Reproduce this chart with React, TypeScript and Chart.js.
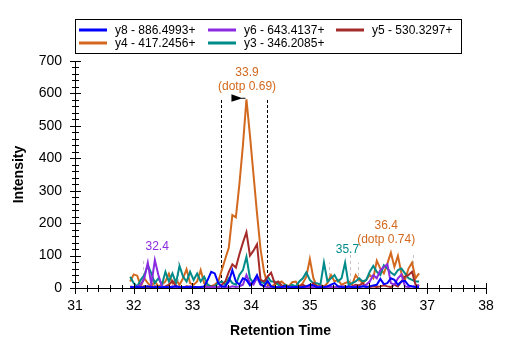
import React, { useEffect, useRef } from "react";
import { Chart, registerables } from "chart.js";

Chart.register(...registerables);

const FONT = "'Liberation Sans', Arial, Helvetica, sans-serif";

// Retention times (min)
const times = [
  31.94, 32.0, 32.06, 32.12, 32.18, 32.24, 32.3, 32.36, 32.42, 32.48,
  32.54, 32.6, 32.66, 32.72, 32.78, 32.84, 32.9, 32.96, 33.02, 33.08,
  33.14, 33.2, 33.26, 33.32, 33.38, 33.44, 33.5, 33.56, 33.62, 33.68,
  33.74, 33.8, 33.86, 33.92, 33.98, 34.04, 34.1, 34.16, 34.22, 34.28,
  34.34, 34.4, 34.46, 34.52, 34.58, 34.64, 34.7, 34.76, 34.82, 34.88,
  34.94, 35.0, 35.06, 35.12, 35.18, 35.24, 35.3, 35.36, 35.42, 35.48,
  35.54, 35.6, 35.66, 35.72, 35.78, 35.84, 35.9, 35.96, 36.02, 36.08,
  36.14, 36.2, 36.26, 36.32, 36.38, 36.44, 36.5, 36.56, 36.62, 36.68,
  36.74, 36.8, 36.86,
];

const y8 = [
  3, 2, 3, 2, 3, 5, 3, 2, 3, 2,
  3, 2, 3, 5, 3, 2, 3, 2, 3, 2,
  3, 5, 25, 50, 45, 15, 5, 5, 20, 55,
  20, 10, 30, 25, 8, 20, 40, 12, 5, 22,
  5, 3, 2, 3, 5, 3, 2, 3, 2, 3,
  5, 10, 8, 3, 2, 3, 5, 10, 15, 5,
  3, 2, 5, 3, 2, 3, 5, 3, 5, 8,
  10, 28, 12, 15, 30, 25, 10, 20, 22, 8,
  5, 3, 2,
];

const y6 = [
  2, 3, 5, 10, 30, 78, 10, 86, 40, 5,
  3, 2, 5, 3, 2, 3, 2, 5, 3, 2,
  3, 2, 3, 2, 3, 2, 5, 3, 2, 5,
  3, 5, 10, 40, 15, 10, 32, 10, 5, 3,
  2, 3, 2, 3, 2, 3, 2, 3, 2, 3,
  2, 3, 2, 3, 5, 3, 2, 3, 2, 3,
  5, 3, 2, 3, 5, 3, 5, 10, 20, 40,
  30, 55, 65, 73, 15, 10, 30, 42, 5, 3,
  5, 3, 10,
];

const y5 = [
  5, 3, 2, 2, 5, 3, 2, 5, 3, 2,
  5, 10, 22, 5, 3, 2, 5, 3, 2, 3,
  2, 3, 2, 5, 3, 2, 10, 20, 50, 73,
  63, 104, 140, 172, 100, 115, 135, 25, 20, 35,
  47, 15, 20, 8, 3, 5, 2, 3, 5, 10,
  5, 3, 15, 5, 2, 3, 5, 3, 2, 5,
  3, 5, 2, 5, 10, 8, 15, 5, 3, 5,
  3, 5, 8, 5, 3, 10, 5, 20, 35, 40,
  50, 10, 5,
];

const y4 = [
  20, 42, 38, 5, 30, 15, 5, 20, 5, 10,
  20, 44, 15, 25, 10, 30, 58, 15, 10, 20,
  55, 15, 5, 5, 10, 20, 55, 90, 125, 225,
  218, 320, 440, 582, 470, 350, 230, 120, 50, 10,
  5, 10, 15, 20, 10, 5, 18, 20, 5, 15,
  35, 89, 30, 5, 10, 5, 15, 40, 20, 25,
  10, 15, 20, 10, 40, 25, 15, 25, 40, 30,
  84, 60, 45, 75, 109, 65, 99, 45, 25, 60,
  78, 30, 45,
];

const y3 = [
  35, 15, 5, 25, 40, 70, 45, 15, 30, 10,
  50, 20, 45, 15, 68, 35, 20, 50, 25, 45,
  20, 35, 10, 5, 5, 15, 20, 10, 30, 15,
  10, 40, 55, 96, 30, 15, 30, 20, 15, 35,
  20, 20, 10, 5, 10, 5, 10, 5, 20, 30,
  48, 25, 15, 15, 10, 78, 20, 30, 40, 20,
  30, 78, 10, 15, 20, 30, 20, 25, 50, 68,
  50, 40, 70, 60, 48, 40, 55, 60, 45, 30,
  25, 20, 20,
];

const seriesNames = [
  "y8 - 886.4993+",
  "y6 - 643.4137+",
  "y5 - 530.3297+",
  "y4 - 417.2456+",
  "y3 - 346.2085+",
];
const seriesColors = ["#0000ff", "#8a2be2", "#a52a2a", "#d2691e", "#008b8b"];
const seriesValues = [y8, y6, y5, y4, y3];
const seriesDrawOrder = [0, 1, 2, 4, 3];

// peak annotations (time, apex intensity)
const peakLabels = [
  { lines: ["33.9", "(dotp 0.69)"], t: 33.93, v: 582, color: "#d2691e" },
  { lines: ["32.4"], t: 32.4, v: 87, color: "#8a2be2" },
  { lines: ["35.7"], t: 35.64, v: 78, color: "#008b8b" },
  { lines: ["36.4", "(dotp 0.74)"], t: 36.3, v: 109, color: "#d2691e" },
];
const selectedBoundTimes = [33.49, 34.27];
const selectedBoundHeight = 582;
const otherBoundTimes = [32.16, 32.75, 35.33, 35.68, 35.82, 36.76];
const otherBoundHeights = [87, 87, 78, 110, 78, 110];
const arrowTime = 33.92;
const arrowValue = 582;

const decorPlugin = {
  id: "decor",
  beforeDatasetsDraw(chart: any) {
    const { ctx, scales } = chart;
    const x = scales.x;
    const y = scales.y;
    ctx.save();
    ctx.lineWidth = 1;
    ctx.setLineDash([3, 3]);
    ctx.strokeStyle = "#c4c4c4";
    otherBoundTimes.forEach((t, i) => {
      const px = Math.round(x.getPixelForValue(t)) + 0.5;
      ctx.beginPath();
      ctx.moveTo(px, y.getPixelForValue(0));
      ctx.lineTo(px, y.getPixelForValue(otherBoundHeights[i]));
      ctx.stroke();
    });
    ctx.strokeStyle = "#000";
    ctx.setLineDash([3, 2]);
    selectedBoundTimes.forEach((t) => {
      const px = Math.round(x.getPixelForValue(t)) + 0.5;
      ctx.beginPath();
      ctx.moveTo(px, y.getPixelForValue(0));
      ctx.lineTo(px, y.getPixelForValue(selectedBoundHeight));
      ctx.stroke();
    });
    ctx.restore();
  },
  afterDatasetsDraw(chart: any) {
    const { ctx, scales } = chart;
    const x = scales.x;
    const y = scales.y;
    ctx.save();
    // arrow pointing at the selected peak
    const ax = x.getPixelForValue(arrowTime) - 1;
    const ay = y.getPixelForValue(arrowValue) - 1;
    ctx.fillStyle = "#000";
    ctx.beginPath();
    ctx.moveTo(ax - 14, ay - 4);
    ctx.lineTo(ax - 3, ay);
    ctx.lineTo(ax - 14, ay + 3.5);
    ctx.closePath();
    ctx.fill();
    ctx.strokeStyle = "#000";
    ctx.lineWidth = 1;
    ctx.beginPath();
    ctx.moveTo(ax - 4, ay);
    ctx.lineTo(ax, ay);
    ctx.stroke();

    ctx.font = `12px ${FONT}`;
    ctx.textAlign = "center";
    ctx.textBaseline = "middle";
    peakLabels.forEach((p) => {
      const px = x.getPixelForValue(p.t);
      const py = y.getPixelForValue(p.v) - 13;
      ctx.fillStyle = p.color;
      const n = p.lines.length;
      p.lines.forEach((s, i) => {
        ctx.fillText(s, px, py - (n - 1 - i) * 14);
      });
    });
    ctx.restore();
  },
  afterDraw(chart: any) {
    const { ctx, scales, chartArea } = chart;
    const x = scales.x;
    const y = scales.y;
    ctx.save();
    ctx.strokeStyle = "#000";
    ctx.lineWidth = 1;
    // x ticks
    const y0 = Math.round(chartArea.bottom);
    for (let i = 0; i <= 35; i++) {
      const v = 31 + i * 0.2;
      const px = Math.round(x.getPixelForValue(v)) + 0.5;
      const major = i % 5 === 0;
      const h = major ? 5 : 3;
      ctx.beginPath();
      ctx.moveTo(px, y0 - h);
      ctx.lineTo(px, y0 + h + 1);
      ctx.stroke();
    }
    // y ticks
    const x0 = Math.round(chartArea.left);
    for (let i = 0; i <= 35; i++) {
      const v = i * 20;
      const py = Math.round(y.getPixelForValue(v)) + 0.5;
      const major = i % 5 === 0;
      const w = major ? 5 : 3;
      ctx.beginPath();
      ctx.moveTo(x0 - w, py);
      ctx.lineTo(x0 + w + 1, py);
      ctx.stroke();
    }

    // legend
    ctx.strokeStyle = "#000";
    ctx.lineWidth = 1;
    ctx.strokeRect(75.5, 19.5, 386, 34);
    const colX = [79, 208, 336];
    const rowY = [30, 43];
    ctx.font = `12px ${FONT}`;
    ctx.textAlign = "left";
    ctx.textBaseline = "middle";
    chart.data.datasets.forEach((ds: any, i: number) => {
      const cx = colX[i % 3];
      const cy = rowY[Math.floor(i / 3)];
      ctx.strokeStyle = ds.borderColor;
      ctx.lineWidth = 3;
      ctx.beginPath();
      ctx.moveTo(cx, cy);
      ctx.lineTo(cx + 28, cy);
      ctx.stroke();
      ctx.fillStyle = "#000";
      ctx.fillText(ds.label, cx + 36, cy + 0.5);
    });
    ctx.restore();
  },
};

export default function App() {
  const canvasRef = useRef<HTMLCanvasElement | null>(null);

  useEffect(() => {
    const canvas = canvasRef.current;
    if (!canvas) return;
    Chart.defaults.font.family = FONT;
    const chart = new Chart(canvas, {
      type: "line",
      data: {
        datasets: seriesValues.map((vals, i) => ({
          label: seriesNames[i],
          data: vals.map((v, k) => ({ x: times[k], y: v })),
          borderColor: seriesColors[i],
          backgroundColor: seriesColors[i],
          borderWidth: 2,
          pointRadius: 0,
          tension: 0,
          fill: false,
          order: seriesDrawOrder[i],
        })),
      },
      options: {
        animation: false,
        responsive: false,
        maintainAspectRatio: false,
        layout: { padding: { left: 0, top: 61, right: 21, bottom: 0 } },
        plugins: {
          legend: { display: false },
          tooltip: { enabled: false },
          title: { display: false },
        },
        scales: {
          x: {
            type: "linear",
            min: 31,
            max: 38,
            afterFit: (s: any) => {
              s.height = 63;
            },
            grid: { display: false, drawTicks: false },
            border: { display: true, color: "#000", width: 1 },
            ticks: {
              stepSize: 1,
              autoSkip: false,
              maxRotation: 0,
              padding: 10,
              color: "#000",
              font: { size: 14, family: FONT },
            },
            title: {
              display: true,
              text: "Retention Time",
              color: "#000",
              font: { size: 14, weight: "bold", family: FONT },
              padding: { top: 11, bottom: 11 },
            },
          },
          y: {
            type: "linear",
            min: 0,
            max: 700,
            afterFit: (s: any) => {
              s.width = 75;
            },
            grid: { display: false, drawTicks: false },
            border: { display: true, color: "#000", width: 1 },
            ticks: {
              stepSize: 100,
              padding: 13,
              color: "#000",
              font: { size: 14, family: FONT },
            },
            title: {
              display: true,
              text: "Intensity",
              color: "#000",
              font: { size: 14, weight: "bold", family: FONT },
              padding: { top: 11, bottom: 11 },
            },
          },
        },
      },
      plugins: [decorPlugin],
    });
    return () => chart.destroy();
  }, []);

  return (
    <div style={{ position: "absolute", left: 0, top: 0, width: 507, height: 351, background: "#fff" }}>
      <canvas ref={canvasRef} width={507} height={351} style={{ display: "block" }} />
    </div>
  );
}
